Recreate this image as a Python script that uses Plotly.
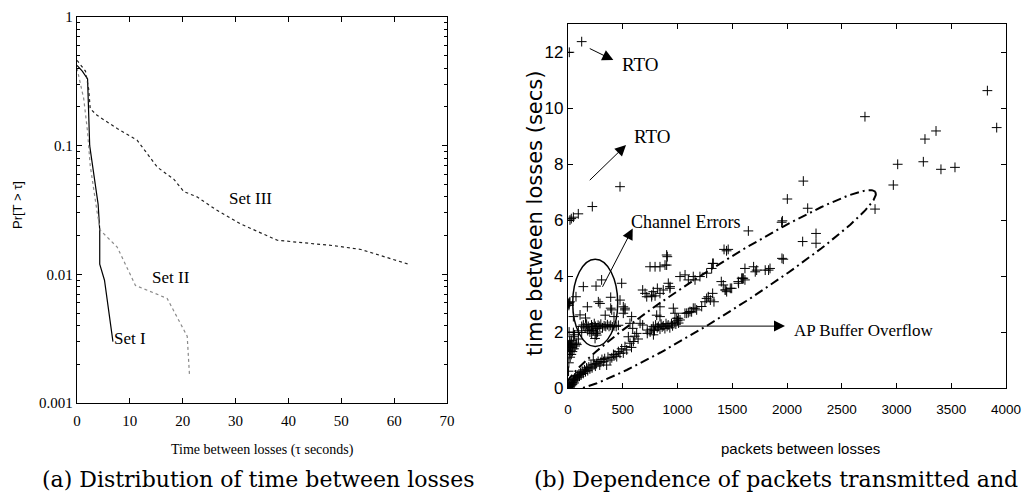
import numpy as np
import plotly.graph_objects as go

# (a) CCDF of time between losses
set1_t = [0, 1, 2, 2.4, 4.0, 4.3, 4.3, 5.2, 6.8]
set1_p = [0.42, 0.38, 0.33, 0.1, 0.035, 0.022, 0.012, 0.009, 0.003]
set2_t = [0, 0.65, 1.27, 2.0, 2.5, 3.8, 4.4, 7.6, 8.85, 11.06, 17.06, 20.85, 21.3]
set2_p = [0.40, 0.293, 0.232, 0.128, 0.07, 0.0306, 0.022, 0.0163, 0.0128, 0.0082, 0.0065, 0.0033, 0.0016]
set3_t = [0, 1.6, 2.2, 2.5, 3.8, 7.6, 11.4, 15.2, 18.3, 20.2, 22.7, 26.2, 30.9, 37.9, 48.6, 53.7, 63.0]
set3_p = [0.46, 0.38, 0.277, 0.194, 0.172, 0.136, 0.11, 0.068, 0.055, 0.044, 0.040, 0.032, 0.0247, 0.0184, 0.0167, 0.0156, 0.0119]

# (b) packets between losses vs time between losses
pkts = [
    # lower band near origin
    5, 10, 15, 20, 25, 30, 35, 40, 45, 50, 55, 60, 65, 70, 80, 85, 90, 100, 105, 115,
    120, 130, 140, 150, 160, 170, 180, 190, 200, 210, 220, 231, 240, 250, 262, 275, 290, 300, 310, 323,
    335, 353, 365, 384, 400, 415, 429, 445, 460, 475, 490, 505, 520, 536, 551, 566, 597, 580,
    # left column
    5, 8, 10, 12, 15, 18, 20, 22, 25, 28, 30, 35, 40, 45, 49, 55, 60, 65, 75, 80,
    95, 49, 95, 125, 10, 3, 8, 12, 18, 10, 5, 15, 30,
    # inside the circle
    125, 140, 155, 170, 185, 200, 215, 225, 240, 250, 262, 275, 290, 300, 315, 330, 345, 360, 375, 390,
    405, 420, 440, 460, 230, 255, 216, 247, 262, 270, 200, 180, 110, 49,
    140, 256, 307, 73, 177, 277, 292, 390, 390, 399, 420, 340, 160,
    490, 475, 505, 520, 521, 505, 581, 566, 627, 591, 658, 724, 724, 682, 610, 640,
    # middle cluster
    764, 779, 790, 800, 815, 825, 840, 850, 860, 870, 885, 895, 905, 915, 930, 945, 955, 970, 985, 1000,
    1010, 1023, 993, 1008, 840, 840, 810, 962, 977, 780, 750,
    # middle diagonal
    1068, 1084, 1099, 1114, 1129, 1144, 1160, 1175, 1221, 1251, 1266, 1281, 1300, 1333, 1321, 1400, 1418, 1434, 1449, 1442,
    1482, 1495, 1555, 1558, 1586, 1601, 1616, 1595,
    # upper stripe
    682, 704, 719, 764, 765, 779, 795, 816, 840, 870, 916, 931, 932, 749, 795, 840, 886, 901, 907, 901,
    1023, 1069, 1099, 1144, 1160, 1205, 1266, 1312, 1327, 1321, 1425, 1463, 1448, 1616, 1695, 1710, 1723, 1801, 1832, 1845,
    1954, 1966, 1647,
    # outliers
    12, 125, 475, 222, 18, 30, 49, 94, 2149, 2003, 2189, 1951, 1958, 2143, 2265, 2265, 2804, 2712, 3830, 3915,
    3361, 3260, 3011, 3245, 3406, 3534, 2971,
]
secs = [
    0.02, 0.05, 0.1, 0.04, 0.15, 0.08, 0.2, 0.12, 0.25, 0.3, 0.18, 0.35, 0.28, 0.4, 0.32, 0.45, 0.38, 0.5, 0.42, 0.55,
    0.48, 0.6, 0.52, 0.65, 0.58, 0.72, 0.62, 0.75, 0.68, 0.82, 0.72, 1.0, 0.85, 0.78, 0.88, 0.95, 0.82, 0.92, 1.02, 0.94,
    1.05, 0.82, 1.1, 1.0, 1.08, 1.2, 1.18, 1.12, 1.3, 1.24, 1.4, 1.25, 1.48, 1.36, 1.83, 1.6, 1.66, 1.45,
    0.6, 0.9, 1.2, 1.45, 1.3, 1.55, 1.1, 1.5, 1.35, 1.6, 1.2, 1.45, 1.3, 1.55, 1.83, 1.4, 1.9, 1.5, 1.6, 1.55,
    1.75, 1.98, 2.04, 1.98, 2.0, 3.02, 2.95, 3.05, 3.08, 3.0, 1.5, 1.65, 1.7,
    2.2, 2.25, 2.15, 2.28, 2.2, 2.1, 2.25, 2.18, 2.3, 2.2, 2.12, 2.24, 2.2, 2.28, 2.15, 2.22, 2.2, 2.26, 2.2, 2.24,
    2.18, 2.22, 2.2, 2.24, 2.05, 1.95, 1.95, 1.77, 1.89, 2.0, 2.0, 2.05, 2.61, 2.55,
    3.62, 3.64, 3.86, 3.26, 2.9, 3.08, 3.02, 3.24, 2.85, 2.79, 2.55, 2.6, 2.5,
    3.74, 3.14, 2.9, 2.79, 2.85, 2.67, 2.55, 2.31, 1.95, 2.13, 2.31, 2.07, 1.95, 2.25, 1.85, 1.75,
    2.1, 2.2, 2.05, 2.25, 2.15, 2.2, 2.1, 2.28, 2.18, 2.22, 2.12, 2.3, 2.2, 2.25, 2.15, 2.3, 2.22, 2.35, 2.28, 2.4,
    2.32, 2.43, 2.49, 2.49, 2.55, 2.9, 2.6, 2.85, 2.67, 1.9, 2.0,
    2.67, 2.67, 2.69, 2.73, 2.72, 2.85, 2.85, 2.79, 2.91, 3.08, 3.2, 3.26, 3.14, 3.08, 3.38, 3.8, 3.68, 3.5, 3.44, 3.5,
    3.56, 3.56, 3.8, 3.74, 3.92, 3.92, 3.86, 3.92,
    3.5, 3.38, 3.26, 3.26, 3.32, 3.44, 3.29, 3.56, 3.38, 3.5, 3.74, 3.56, 3.62, 4.33, 4.33, 4.33, 4.39, 4.39, 4.69, 4.75,
    3.98, 4.04, 3.86, 3.98, 3.86, 3.98, 4.1, 4.27, 4.45, 4.45, 4.95, 4.95, 4.9, 4.27, 4.33, 4.15, 4.21, 4.21, 4.21, 4.27,
    4.63, 4.6, 5.61,
    11.99, 12.37, 7.19, 6.48, 6.0, 6.05, 6.1, 6.22, 7.39, 6.75, 6.42, 5.92, 5.97, 5.23, 5.52, 5.17, 6.39, 9.69, 10.62, 9.3,
    9.18, 8.89, 7.99, 8.08, 7.81, 7.88, 7.25,
]

W, H = 1022, 500
serif = "Liberation Serif, Times New Roman, serif"
sans = "Liberation Sans, Arial, sans-serif"

fig = go.Figure()

fig.add_trace(go.Scatter(x=set1_t, y=set1_p, mode="lines", xaxis="x", yaxis="y",
                         line=dict(color="black", width=1.2)))
fig.add_trace(go.Scatter(x=set2_t, y=set2_p, mode="lines", xaxis="x", yaxis="y",
                         line=dict(color="#8a8a8a", width=1.2, dash="dot")))
fig.add_trace(go.Scatter(x=set3_t, y=set3_p, mode="lines", xaxis="x", yaxis="y",
                         line=dict(color="#222222", width=1.2, dash="dot")))

fig.add_trace(go.Scatter(x=pkts, y=secs, mode="markers", xaxis="x2", yaxis="y2",
                         marker=dict(symbol="cross-thin", size=7, color="black",
                                     line=dict(width=1, color="black"))))

# dash-dot ellipse around the AP buffer overflow band
t = np.linspace(0, 2 * np.pi, 200)
cx, cy = 1397, 3.5
ux, uy = 1410, 3.5
vx, vy = 113, -0.69
fig.add_trace(go.Scatter(x=cx + ux * np.cos(t) + vx * np.sin(t),
                         y=cy + uy * np.cos(t) + vy * np.sin(t),
                         mode="lines", xaxis="x2", yaxis="y2",
                         line=dict(color="black", width=2, dash="9px,4px,2px,4px")))

axis_common = dict(showline=True, linecolor="black", linewidth=1.3, mirror="ticks",
                   ticks="inside", ticklen=5, tickcolor="black", showgrid=False,
                   zeroline=False, automargin=False, ticklabeloverflow="allow")

fig.update_layout(
    width=W, height=H,
    margin=dict(l=0, r=0, t=0, b=0, autoexpand=False),
    paper_bgcolor="white", plot_bgcolor="white",
    showlegend=False,
    xaxis=dict(domain=[77 / W, 447 / W], range=[0, 70], anchor="y",
               tickvals=[0, 10, 20, 30, 40, 50, 60, 70], ticklabelstandoff=4,
               tickfont=dict(family=serif, size=15, color="black"), **axis_common),
    yaxis=dict(domain=[1 - 403 / H, 1 - 17 / H], type="log", range=[-3, 0], anchor="x",
               tickvals=[0.001, 0.01, 0.1, 1], ticktext=["0.001", "0.01", "0.1", "1"],
               minor=dict(ticks="inside", ticklen=3, dtick="D1", tickcolor="black"),
               tickfont=dict(family=serif, size=15, color="black"), **axis_common),
    xaxis2=dict(domain=[568 / W, 1006 / W], range=[0, 4000], anchor="y2",
                tickvals=[0, 500, 1000, 1500, 2000, 2500, 3000, 3500, 4000], ticklabelstandoff=9,
                tickfont=dict(family=sans, size=13.5, color="black"), **axis_common),
    yaxis2=dict(domain=[1 - 388 / H, 1 - 24 / H], range=[0, 13], anchor="x2",
                tickvals=[0, 2, 4, 6, 8, 10, 12],
                tickfont=dict(family=sans, size=17, color="black"), **axis_common),
)

# solid circle around channel errors
fig.add_shape(type="circle", xref="x2", yref="y2", x0=43, x1=454, y0=1.48, y1=4.6,
              line=dict(color="black", width=1.5))

ann = []
# left panel labels (log axis -> log10 positions)
for txt, x, y in [("Set III", 32.8, 0.0387), ("Set II", 17.7, 0.0095), ("Set I", 10.1, 0.0032)]:
    ann.append(dict(text=txt, x=x, y=np.log10(y), xref="x", yref="y", showarrow=False,
                    xanchor="center", yanchor="middle",
                    font=dict(family=serif, size=17, color="black")))

# right panel labels
ann.append(dict(text="RTO", x=475, y=11.54, xref="x2", yref="y2", xanchor="left",
                yanchor="middle", showarrow=False, font=dict(family=serif, size=19, color="black")))
ann.append(dict(text="RTO", x=584, y=8.98, xref="x2", yref="y2", xanchor="left",
                yanchor="middle", showarrow=False, font=dict(family=serif, size=19, color="black")))
ann.append(dict(text="Channel Errors", x=1073, y=5.94, xref="x2", yref="y2", xanchor="center",
                yanchor="middle", showarrow=False, font=dict(family=serif, size=18, color="black")))
ann.append(dict(text="AP Buffer Overflow", x=2043, y=2.05, xref="x2", yref="y2", xanchor="left",
                yanchor="middle", showarrow=False, font=dict(family=serif, size=17, color="black")))

# arrows
for (tx, ty), (hx, hy) in [((185, 12.15), (414, 11.71)), ((185, 7.37), (530, 8.68)),
                           ((308, 3.56), (591, 5.70)), ((993, 2.21), (1982, 2.21))]:
    ann.append(dict(text="", x=hx, y=hy, ax=tx, ay=ty, xref="x2", yref="y2",
                    axref="x2", ayref="y2", showarrow=True, arrowhead=2, arrowsize=2.2,
                    arrowwidth=1, arrowcolor="black"))

# axis titles
ann.append(dict(text="Pr[T > \u03c4]", x=18 / W, y=1 - 205 / H, xref="paper", yref="paper",
                xanchor="center", yanchor="middle", textangle=-90, showarrow=False,
                font=dict(family=sans, size=13, color="black")))
ann.append(dict(text="Time between losses (\u03c4 seconds)", x=262 / W, y=1 - 450 / H,
                xref="paper", yref="paper", xanchor="center", yanchor="middle", showarrow=False,
                font=dict(family=serif, size=14, color="black")))
ann.append(dict(text="time between losses (secs)", x=535 / W, y=1 - 214 / H, xref="paper",
                yref="paper", xanchor="center", yanchor="middle", textangle=-90, showarrow=False,
                font=dict(family="DejaVu Sans, sans-serif", size=21, color="black")))
ann.append(dict(text="packets between losses", x=800 / W, y=1 - 448 / H, xref="paper",
                yref="paper", xanchor="center", yanchor="middle", showarrow=False,
                font=dict(family=sans, size=15, color="black")))

# captions
ann.append(dict(text="(a) Distribution of time between losses", x=40 / W, y=1 - 479 / H,
                xref="paper", yref="paper", xanchor="left", yanchor="middle", showarrow=False,
                font=dict(family="DejaVu Serif, serif", size=22, color="black")))
ann.append(dict(text="(b) Dependence of packets transmitted and", x=1020 / W, y=1 - 479 / H,
                xref="paper", yref="paper", xanchor="right", yanchor="middle", showarrow=False,
                font=dict(family="DejaVu Serif, serif", size=22, color="black")))

fig.update_layout(annotations=ann)

# drop the default page margin so the figure sits at the window's top-left corner
fig.write_html("out.html", config={"displayModeBar": False},
               post_script="document.body.style.margin = '0';")
